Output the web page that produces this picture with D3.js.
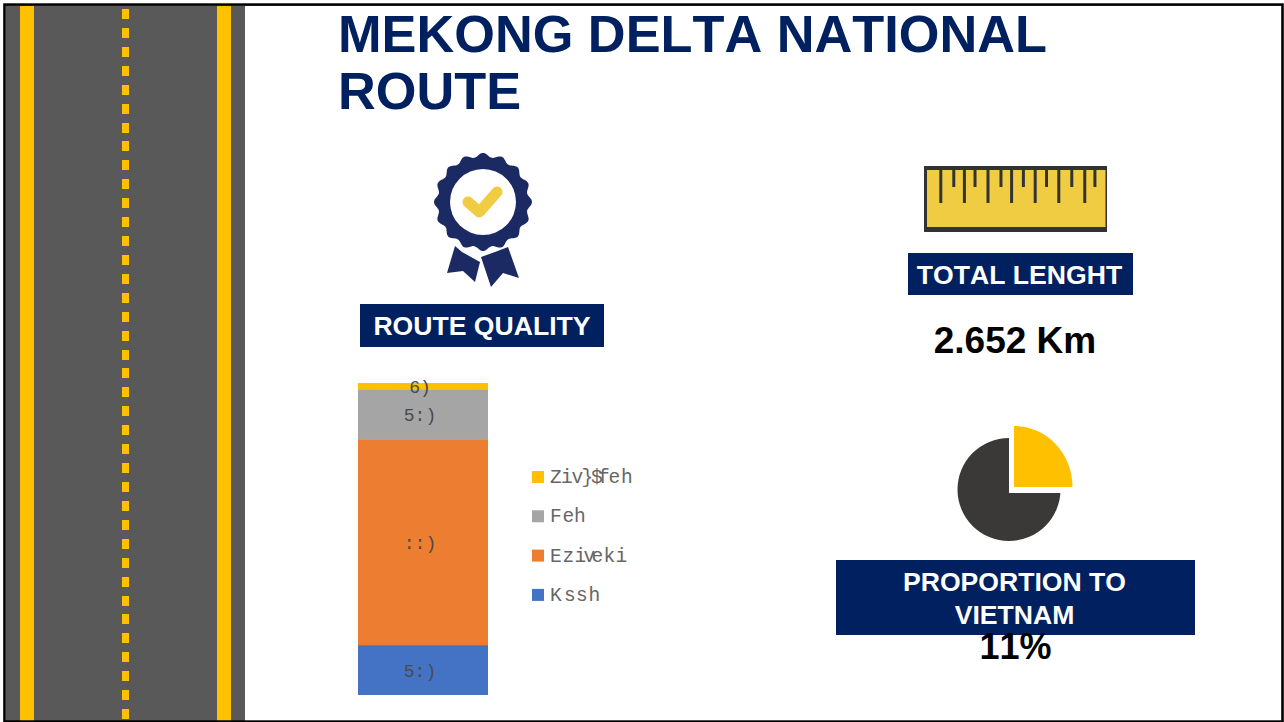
<!DOCTYPE html>
<html>
<head>
<meta charset="utf-8">
<script src="https://cdn.jsdelivr.net/npm/d3@7"></script>
<style>
html, body { margin: 0; padding: 0; background: #fff; overflow: hidden; }
svg { display: block; }
text { font-family: "Liberation Sans", Arial, sans-serif; font-kerning: none; }
</style>
</head>
<body>
<div class="content"></div>
<script>
// stacked bar, bottom to top
var categories = ["Kssh", "Eziveki", "Feh", "Ziv}$feh"];
var barValues = [16, 66, 16, 2];
var barLabels = ["5:)", "::)", "5:)", "6)"];
var barColors = ["#4472C4", "#ED7D31", "#A5A5A5", "#FFC000"];
var legendOrder = ["Ziv}$feh", "Feh", "Eziveki", "Kssh"];

// pie: share shown by the icon
var pieValues = [25, 75];
var pieColors = ["#FFC000", "#3B3838"];

var titleLines = ["MEKONG DELTA NATIONAL", "ROUTE"];

// ruler marks, in ruler units
var rulerLong = [0.5, 1.5, 2.5, 3.5, 4.5, 5.5, 6.6];
var rulerShort = [1.05, 1.95, 3.05, 4, 4.98, 6.05, 7.03];

var width = 1284;
var height = 722;
var navy = "#002060";
var ctrl = d3.select(".content").append("svg").attr("width", width).attr("height", height);

// road
ctrl.append("rect").attr("x", 6).attr("y", 6).attr("width", 239).attr("height", 715).attr("fill", "#595959");
ctrl.append("rect").attr("x", 20).attr("y", 6).attr("width", 14).attr("height", 715).attr("fill", "#FFC000");
ctrl.append("rect").attr("x", 217).attr("y", 6).attr("width", 14).attr("height", 715).attr("fill", "#FFC000");
ctrl.selectAll(".dash").data(d3.range(9, 715, 18.92)).enter().append("rect")
	.attr("class", "dash")
	.attr("x", 122).attr("y", function(d){ return Math.round(d); })
	.attr("width", 7).attr("height", 10).attr("fill", "#FFC000");

// slide border
ctrl.append("rect").attr("x", 4.5).attr("y", 4.6).attr("width", 1278).attr("height", 717)
	.attr("fill", "none").attr("stroke", "#000").attr("stroke-width", 2.6);

// title
ctrl.selectAll(".title").data(titleLines).enter().append("text")
	.attr("class", "title")
	.attr("x", 338).attr("y", function(d, i){ return 52 + i * 57; })
	.attr("font-size", 52.3).attr("font-weight", "bold").attr("fill", navy)
	.text(function(d){ return d; });

// stacked bar
var y = d3.scaleLinear().domain([0, d3.sum(barValues)]).range([695, 383]);
var x = d3.scaleBand().domain(["bar"]).range([358, 488]);
var stackData = {};
categories.forEach(function(c, i){ stackData[c] = barValues[i]; });
var series = d3.stack().keys(categories)([stackData]);
var bars = ctrl.append("g");
bars.selectAll("rect").data(series).enter().append("rect")
	.attr("x", x("bar")).attr("width", x.bandwidth())
	.attr("y", function(d){ return y(d[0][1]); })
	.attr("height", function(d){ return y(d[0][0]) - y(d[0][1]); })
	.attr("fill", function(d, i){ return barColors[i]; });
bars.selectAll("text").data(series).enter().append("text")
	.attr("x", 420)
	.attr("y", function(d){ return (y(d[0][0]) + y(d[0][1])) / 2 + 6.5; })
	.attr("text-anchor", "middle")
	.attr("font-size", 18).attr("fill", "#4a4a4a")
	.style("font-family", "'Liberation Mono', monospace")
	.text(function(d, i){ return barLabels[i]; });

// legend, the glyphs sit unevenly so each label gets its own x list
var legendGlyphX = {
	"Ziv}$feh": "0 11 21.5 31.5 41 48 58.5 71",
	"Feh": "0 12.5 24",
	"Eziveki": "0 12.5 24.5 33.5 41.5 53.5 65.5",
	"Kssh": "0 14 26 38.5"
};
var legend = ctrl.append("g").selectAll("g").data(legendOrder).enter().append("g")
	.attr("transform", function(d, i){ return "translate(532," + (471 + i * 39.3) + ")"; });
legend.append("rect").attr("width", 12).attr("height", 12)
	.attr("fill", function(d){ return barColors[categories.indexOf(d)]; });
legend.append("text").attr("transform", "translate(18,12)")
	.attr("x", function(d){ return legendGlyphX[d]; })
	.attr("font-size", 19.5).attr("fill", "#666")
	.style("font-family", "'Liberation Mono', monospace")
	.text(function(d){ return d; });

// medal icon
var medal = ctrl.append("g").attr("transform", "translate(483,202)");
var ribbon = d3.line();
var bumps = 16;
var scallop = d3.range(0, bumps * 12).map(function(i){
	var a = i / (bumps * 12) * 2 * Math.PI;
	return [a, 47 + 2 * Math.cos(a * bumps)];
});
medal.append("path").attr("fill", "#1B2A63")
	.attr("d", d3.lineRadial().curve(d3.curveCardinalClosed)(scallop));
medal.append("circle").attr("r", 33).attr("fill", "#fff");
medal.append("path").attr("fill", "none").attr("stroke", "#F0CC43").attr("stroke-width", 11)
	.attr("stroke-linecap", "round").attr("stroke-linejoin", "round")
	.attr("d", ribbon([[-15,0],[-3.5,10],[14,-10]]));
medal.append("path").attr("fill", "#1B2A63")
	.attr("d", ribbon([[-28,44],[-21,50],[-3,60],[-8,80],[-20,69],[-36,71]]));
medal.append("path").attr("fill", "#1B2A63")
	.attr("d", ribbon([[-2,55],[12,50],[25,45],[36,76],[20,71],[8,85]]));

// ruler
ctrl.append("rect").attr("x", 924).attr("y", 166).attr("width", 183).attr("height", 66).attr("fill", "#333");
ctrl.append("rect").attr("x", 927).attr("y", 170).attr("width", 178.5).attr("height", 57).attr("fill", "#F0CC43");
var rulerX = d3.scaleLinear().domain([0, 7.5]).range([929, 1106]);
ctrl.selectAll(".tl").data(rulerLong).enter().append("line").attr("class", "tl")
	.attr("x1", rulerX).attr("x2", rulerX).attr("y1", 168).attr("y2", 203)
	.attr("stroke", "#333").attr("stroke-width", 3);
ctrl.selectAll(".ts").data(rulerShort).enter().append("line").attr("class", "ts")
	.attr("x1", rulerX).attr("x2", rulerX).attr("y1", 168).attr("y2", 187)
	.attr("stroke", "#333").attr("stroke-width", 3);

// pie, the yellow slice is pulled out with a white gap behind it
var pie = d3.pie().sort(null)(pieValues);
ctrl.append("path").attr("transform", "translate(1009,489.5)")
	.attr("fill", pieColors[1])
	.attr("d", d3.arc().innerRadius(0).outerRadius(51.5)(pie[1]));
ctrl.append("path").attr("transform", "translate(1009,493)")
	.attr("fill", "#fff")
	.attr("d", d3.arc().innerRadius(0).outerRadius(75)(pie[0]));
ctrl.append("path").attr("transform", "translate(1014,487) scale(0.975,1.017)")
	.attr("fill", pieColors[0])
	.attr("d", d3.arc().innerRadius(0).outerRadius(60)(pie[0]));

// labels
function banner(bx, by, bw, bh, lines, base, shift) {
	ctrl.append("rect").attr("x", bx).attr("y", by).attr("width", bw).attr("height", bh).attr("fill", navy);
	lines.forEach(function(t, i){
		ctrl.append("text").attr("x", bx + bw / 2 + shift).attr("y", base + i * 33)
			.attr("text-anchor", "middle").attr("font-size", 26.6).attr("font-weight", "bold")
			.attr("fill", "#fff").text(t);
	});
}
banner(360, 304, 244, 43, ["ROUTE QUALITY"], 335, 0);
banner(908, 253, 225, 42, ["TOTAL LENGHT"], 284, -1);
banner(836, 560, 359, 75, ["PROPORTION TO", "VIETNAM"], 590.5, -1);

ctrl.append("text").attr("x", 1015).attr("y", 353).attr("text-anchor", "middle")
	.attr("font-size", 37).attr("font-weight", "bold").attr("fill", "#000").text("2.652 Km");
ctrl.append("text").attr("x", 1015.5).attr("y", 659).attr("text-anchor", "middle")
	.attr("font-size", 36).attr("font-weight", "bold").attr("fill", "#000").text("11%");
</script>
</body>
</html>
